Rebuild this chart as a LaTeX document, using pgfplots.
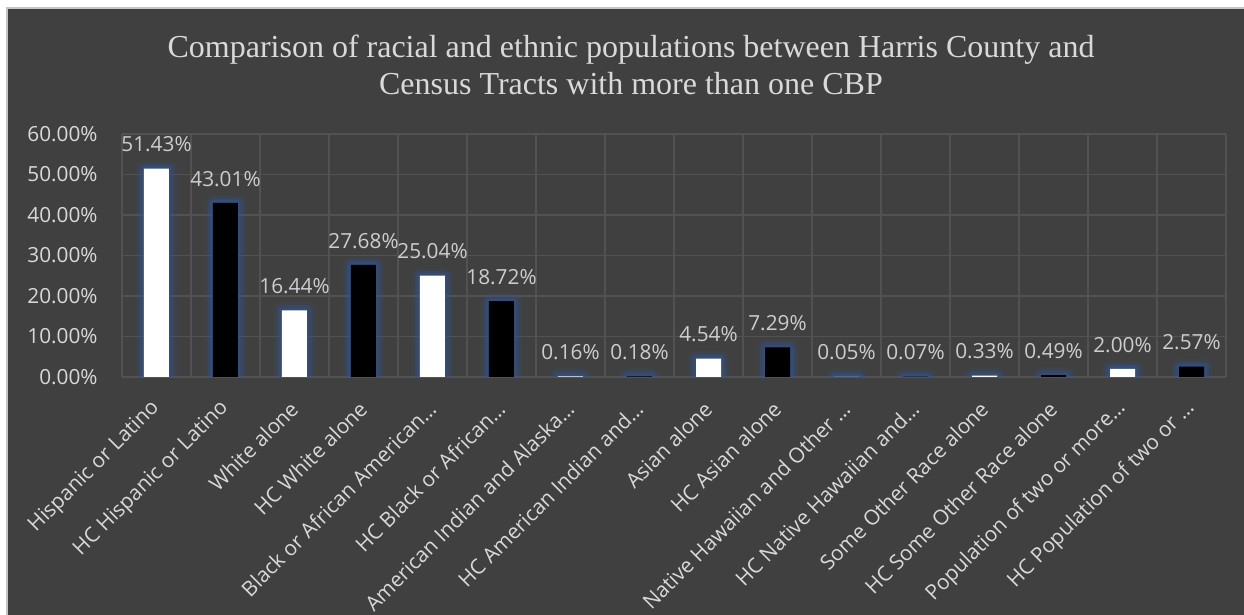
\documentclass[border=0pt]{standalone}
\usepackage{fontspec}
\setmainfont{Liberation Serif}
\newfontfamily\uisans{Open Sans}
\usepackage{pgfplots}
\pgfplotsset{compat=1.18}
\usepackage{pgfplotstable}

\definecolor{bg}{HTML}{404040}
\definecolor{framec}{HTML}{C4C4C4}
\definecolor{gridc}{HTML}{525252}
\definecolor{txt}{HTML}{D9D9D9}
\definecolor{lbl}{HTML}{CDCDCD}
\definecolor{glow}{HTML}{2F5597}

% census tracts with more than one CBP (white bars)
\pgfplotstableread{
x y
0 51.43
2 16.44
4 25.04
6 0.16
8 4.54
10 0.05
12 0.33
14 2.00
}\tractdata

% Harris County (black bars)
\pgfplotstableread{
x y
1 43.01
3 27.68
5 18.72
7 0.18
9 7.29
11 0.07
13 0.49
15 2.57
}\countydata

\newcommand{\labelfont}{\uisans\fontsize{10.4}{12.5}\selectfont}

\begin{document}
\begin{tikzpicture}
% chart area
\fill[white] (-61pt,-119pt) rectangle (561pt,188.5pt);
\fill[framec] (-58pt,-125pt) rectangle (570pt,185pt);
\fill[bg] (-57pt,-125pt) rectangle (570pt,184pt);

% title
\node[anchor=base, color=txt, font=\fontsize{16}{19}\selectfont, inner sep=0pt]
  at (254.5pt,159.5pt) {Comparison of racial and ethnic populations between Harris County and};
\node[anchor=base, color=txt, font=\fontsize{16}{19}\selectfont, inner sep=0pt]
  at (254.5pt,141.3pt) {Census Tracts with more than one CBP};

\begin{axis}[
  at={(0pt,0pt)}, anchor=south west,
  scale only axis, width=552pt, height=121.5pt,
  xmin=-0.5, xmax=15.5, ymin=0, ymax=60,
  axis line style={draw=none},
  major tick style={draw=none}, minor tick style={draw=none},
  ytick={0,10,...,60},
  ymajorgrids,
  major grid style={gridc, line width=0.6pt},
  minor xtick={-0.5,0.5,...,15.5},
  xminorgrids,
  minor grid style={gridc, line width=0.6pt},
  /pgf/number format/assume math mode=true,
  yticklabel={\pgfmathprintnumber[fixed,fixed zerofill,precision=2]{\tick}\%},
  yticklabel style={font=\labelfont, color=txt, anchor=east, inner sep=0pt, xshift=-12pt},
  xtick={0,...,15},
  xticklabels={Hispanic or Latino, HC Hispanic or Latino, White alone, HC White alone,
    Black or African American…, HC Black or African…, American Indian and Alaska…,
    HC American Indian and…, Asian alone, HC Asian alone, Native Hawaiian and Other …,
    HC Native Hawaiian and…, Some Other Race alone, HC Some Other Race alone,
    Population of two or more…, HC Population of two or …},
  xticklabel style={font=\labelfont, color=txt, inner sep=0pt, rotate=45, anchor=east},
  xticklabel shift=14pt,
  clip=true,
  bar width=12.5pt,
  glowA/.style={ybar, bar shift=0pt, fill=none, draw=glow, draw opacity=0.16, line width=8pt, line join=round},
  glowB/.style={ybar, bar shift=0pt, fill=none, draw=glow, draw opacity=0.26, line width=5pt, line join=round},
  glowC/.style={ybar, bar shift=0pt, fill=none, draw=glow, draw opacity=0.38, line width=2.5pt, line join=round},
  valbar/.style={ybar, bar shift=0pt, draw=none,
    nodes near coords={\pgfmathprintnumber[fixed,fixed zerofill,precision=2]{\pgfplotspointmeta}\%},
    every node near coord/.append style={font=\labelfont, color=lbl, inner sep=0pt, anchor=base, yshift=8.4pt}},
]
% glow around the bars
\addplot[glowA] table[x=x,y=y]{\tractdata};
\addplot[glowB] table[x=x,y=y]{\tractdata};
\addplot[glowC] table[x=x,y=y]{\tractdata};
\addplot[glowA] table[x=x,y=y]{\countydata};
\addplot[glowB] table[x=x,y=y]{\countydata};
\addplot[glowC] table[x=x,y=y]{\countydata};
% bars with value labels
\addplot[valbar, fill=white] table[x=x,y=y]{\tractdata};
\addplot[valbar, fill=black] table[x=x,y=y]{\countydata};
\end{axis}

\pgfresetboundingbox
\useasboundingbox (-61pt,-119pt) rectangle (561pt,188.5pt);
\end{tikzpicture}
\end{document}
